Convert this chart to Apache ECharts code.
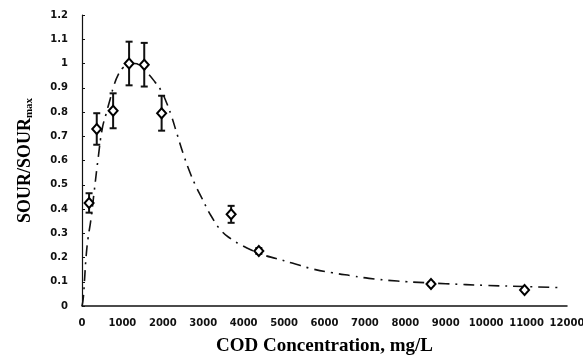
<!DOCTYPE html>
<html>
<head>
<meta charset="utf-8">
<script src="https://cdn.jsdelivr.net/npm/echarts@6/dist/echarts.min.js"></script>
<style>
  html, body { margin: 0; padding: 0; background: #fff; }
  #chart { width: 583px; height: 357px; }
</style>
</head>
<body>
<div id="chart"></div>
<script>
// Measured SOUR/SOURmax against COD concentration (mg/L)
var codConc = [175, 365, 770, 1165, 1540, 1970, 3690, 4375, 8635, 10950];
var sourRatio = [0.425, 0.73, 0.805, 1.0, 0.995, 0.795, 0.378, 0.227, 0.091, 0.066];
var sourErr = [0.04, 0.065, 0.072, 0.09, 0.09, 0.072, 0.035, 0.012, 0.006, 0.006];

// Fitted model curve (COD, SOUR/SOURmax)
var fitCod = [0, 30, 60, 100, 150, 215, 300, 400, 500, 600, 700, 800, 900, 1000, 1150, 1300,
  1450, 1600, 1800, 1950, 2100, 2200, 2350, 2500, 2650, 2800, 2950, 3200, 3450, 3700, 3900,
  4200, 4500, 4800, 5200, 5700, 6200, 6700, 7100, 7800, 8500, 9000, 10000, 11000, 11800];
var fitSour = [0, 0.03, 0.1, 0.2, 0.28, 0.35, 0.47, 0.61, 0.73, 0.795, 0.855, 0.915, 0.955, 0.98,
  0.995, 1.0, 0.99, 0.965, 0.925, 0.89, 0.835, 0.79, 0.71, 0.63, 0.56, 0.5, 0.45, 0.37, 0.31,
  0.275, 0.255, 0.23, 0.21, 0.196, 0.177, 0.153, 0.137, 0.124, 0.114, 0.103, 0.096, 0.092,
  0.085, 0.08, 0.076];

var xTicks = [0, 12000, 1000];
var yTicks = [0, 1.2, 0.1];

var points = codConc.map(function (c, i) { return [c, sourRatio[i]]; });
var bars = codConc.map(function (c, i) { return [c, sourRatio[i] - sourErr[i], sourRatio[i] + sourErr[i]]; });
var fit = fitCod.map(function (c, i) { return [c, fitSour[i]]; });

var tickFont = { fontFamily: 'DejaVu Sans', fontWeight: 'bold', fontSize: 10, color: '#111' };

var chart = echarts.init(document.getElementById('chart'), null, { renderer: 'canvas' });
chart.setOption({
  animation: false,
  backgroundColor: '#fff',
  grid: { left: 82, right: 16, top: 15, bottom: 51, containLabel: false, outerBoundsMode: 'none' },
  xAxis: {
    type: 'value',
    min: xTicks[0], max: xTicks[1], interval: xTicks[2],
    name: 'COD Concentration, mg/L',
    nameLocation: 'middle',
    nameGap: 31,
    nameTextStyle: { fontFamily: 'Liberation Serif', fontWeight: 'bold', fontSize: 19, color: '#000' },
    axisLine: { lineStyle: { color: '#111', width: 1.5 } },
    axisTick: { show: false },
    splitLine: { show: false },
    axisLabel: Object.assign({ margin: 12, formatter: function (v) { return String(v); } }, tickFont)
  },
  yAxis: {
    type: 'value',
    min: yTicks[0], max: yTicks[1], interval: yTicks[2],
    name: '{a|SOUR/SOUR}{s|max}',
    nameLocation: 'middle',
    nameRotate: 90,
    nameGap: 47,
    nameTextStyle: {
      rich: {
        a: { fontFamily: 'Liberation Serif', fontWeight: 'bold', fontSize: 18, color: '#000' },
        s: { fontFamily: 'Liberation Serif', fontWeight: 'bold', fontSize: 11, color: '#000', padding: [9, 0, 0, 0] }
      }
    },
    axisLine: { show: true, lineStyle: { color: '#111', width: 1.2 } },
    axisTick: { show: true, inside: true, length: 3, lineStyle: { color: '#111' } },
    splitLine: { show: false },
    axisLabel: Object.assign({ margin: 14, formatter: function (v) { return String(+v.toFixed(1)); } }, tickFont)
  },
  series: [
    {
      type: 'line',
      data: fit,
      showSymbol: false,
      smooth: true,
      lineStyle: { color: '#111', width: 1.6, type: [11, 6, 2, 6] },
      z: 1
    },
    {
      type: 'custom',
      data: bars,
      renderItem: function (params, api) {
        var top = api.coord([api.value(0), api.value(2)]);
        var bot = api.coord([api.value(0), api.value(1)]);
        var cap = 3.5;
        var st = { stroke: '#111', lineWidth: 2 };
        return {
          type: 'group',
          children: [
            { type: 'line', shape: { x1: top[0], y1: top[1], x2: bot[0], y2: bot[1] }, style: st },
            { type: 'line', shape: { x1: top[0] - cap, y1: top[1], x2: top[0] + cap, y2: top[1] }, style: st },
            { type: 'line', shape: { x1: bot[0] - cap, y1: bot[1], x2: bot[0] + cap, y2: bot[1] }, style: st }
          ]
        };
      },
      z: 2
    },
    {
      type: 'scatter',
      data: points,
      symbol: 'diamond',
      symbolSize: [9, 10],
      itemStyle: { color: '#fff', borderColor: '#000', borderWidth: 2, opacity: 1 },
      z: 3
    }
  ]
});
</script>
</body>
</html>
